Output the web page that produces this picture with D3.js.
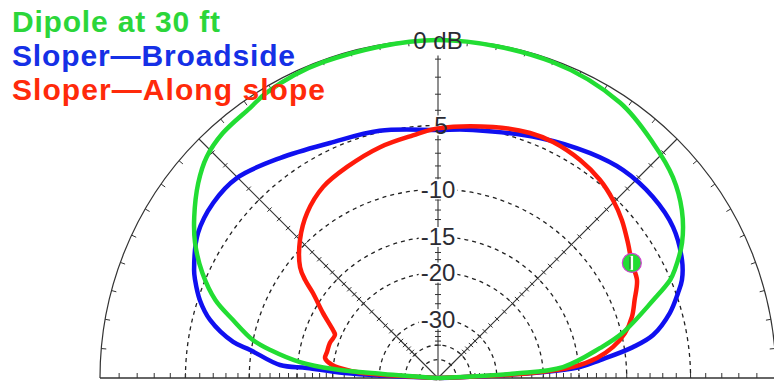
<!DOCTYPE html>
<html><head><meta charset="utf-8">
<script src="https://cdn.jsdelivr.net/npm/d3@7"></script>
<style>html,body{margin:0;padding:0;background:#fff;overflow:hidden}</style>
</head><body><svg id="c" width="774" height="381"></svg>
<script>
// ---- data ----
const legendLabels = ["Dipole at 30 ft", "Sloper\u2014Broadside", "Sloper\u2014Along slope"];
const ringDb = [-5, -10, -15, -20, -30, -40, -50];
const ringLabels = ["0 dB", "5", "-10", "-15", "-20", "-30"];
const ringLabelDb = [0, -5, -10, -15, -20, -30];
const radialAngles = [0, 45, 90, 135, 180];
const tickDb = [-1,-2,-3,-4,-5,-6,-7,-8,-9,-10,-11,-12,-13,-14,-15,-16,-17,-18,-19,-20,-22,-24,-26,-28,-30,-32,-34,-36,-38,-40];
const arcTickAngles = d3.range(5, 180, 5);

const dipoleAngle = [0, 3.3, 5.0, 10.5, 13.7, 19.9, 22.9, 24.5, 29, 34.5, 40.5, 47.5, 56.5, 70, 90, 110, 120.9, 124.8, 131.3, 136.3, 140.9, 146.6, 150.9, 156.0, 160.7, 164.2, 168.4, 170.5, 173.4, 175.1, 175.8, 180];
const dipoleDb    = [-99, -25.3, -17.0, -12.3, -9.9, -6.68, -5.04, -4.5, -3.29, -2.28, -1.54, -1.02, -0.41, -0.1, 0, -0.1, -0.26, -0.46, -0.62, -0.94, -1.54, -2.51, -3.35, -4.64, -6.17, -7.92, -9.98, -11.8, -15.25, -20.06, -31, -99];

const broadAngle = [0, 3.0, 4.4, 6.3, 9.0, 11.3, 15.7, 19.5, 21.9, 25.8, 32.7, 40.1, 48.3, 55.9, 67, 82, 90, 103.3, 114.7, 125.7, 135.1, 142.1, 148.9, 156.1, 158, 161.9, 165.7, 170.0, 171.5, 175.3, 175.6, 177, 180];
const broadDb    = [-99, -22, -14.85, -12.5, -9.23, -7.42, -5.81, -4.86, -4.31, -3.79, -3.27, -3.17, -3.33, -3.76, -4.45, -5.14, -5.31, -4.9, -4.59, -3.80, -3.01, -2.93, -3.21, -4.06, -4.37, -5.14, -6.22, -8.33, -9.89, -13.0, -16.2, -22, -99];

const slopeAngle = [0, 3, 4.7, 7.2, 10.0, 13.5, 17.5, 21.6, 26.2, 30.7, 35.4, 40.7, 45.5, 50.7, 56.9, 64, 69.4, 77.6, 90, 95.9, 104.1, 113.3, 121, 128.4, 135, 141.2, 143.6, 145.8, 150.5, 155.4, 157.3, 162, 166.8, 170, 173, 174.2, 176, 180];
const slopeDb    = [-99, -22, -15.7, -12.8, -11.05, -9.68, -8.72, -8.05, -7.23, -6.95, -6.38, -5.70, -5.20, -4.78, -4.49, -4.34, -4.39, -4.70, -5.2, -5.6, -6.02, -6.62, -7.14, -8.11, -9.42, -11.1, -12.3, -13.8, -16.1, -18.4, -19.0, -18.7, -18.65, -18.55, -19.8, -21.2, -25, -99];

const markerAngle = 30.7, markerDb = -6.95;

const seriesColors = ["#22dd33", "#1010f0", "#ff1a0a"];
const legendColors = ["#2bd63a", "#1530e6", "#ff2a0a"];

// ---- setup ----
const cx = 438, cy = 378, R = 338;
const svg = d3.select("#c");
// ARRL log-periodic scale: radius ~ (power ratio)^0.2531  (0.89 per 2 dB)
const rScale = d3.scalePow().exponent(0.2531).domain([0, 1]).range([0, R]);
const rad = db => rScale(Math.pow(10, db / 10));
const angScale = d3.scaleLinear().domain([0, 180]).range([Math.PI / 2, -Math.PI / 2]);
const pt = (deg, r) => { const a = angScale(deg); return [cx + r * Math.sin(a), cy - r * Math.cos(a)]; };

const g = svg.append("g");
const gridCol = "#333";

// dashed rings
ringDb.forEach(db => {
  const p = d3.path(); const r = rad(db);
  p.moveTo(cx - r, cy); p.arc(cx, cy, r, Math.PI, 0);
  g.append("path").attr("d", p.toString()).attr("fill", "none")
    .attr("stroke", "#222").attr("stroke-width", 1.3).attr("stroke-dasharray", "4,4");
});
// outer 0 dB arc
{
  const p = d3.path(); p.moveTo(cx - R, cy); p.arc(cx, cy, R, Math.PI, 0);
  g.append("path").attr("d", p.toString()).attr("fill", "none").attr("stroke", gridCol).attr("stroke-width", 1.2);
}
// outer arc ticks
arcTickAngles.forEach(a => {
  const [x1, y1] = pt(a, R), [x2, y2] = pt(a, R - 5);
  g.append("line").attr("x1", x1).attr("y1", y1).attr("x2", x2).attr("y2", y2).attr("stroke", gridCol).attr("stroke-width", 1);
});
// baseline
g.append("line").attr("x1", cx - R).attr("y1", cy).attr("x2", cx + R).attr("y2", cy).attr("stroke", gridCol).attr("stroke-width", 1.4);
// radial lines
radialAngles.forEach(a => {
  if (a === 0 || a === 180) return;
  const rEnd = a === 90 ? rad(-0.8) : R;
  const [x1, y1] = pt(a, 0), [x2, y2] = pt(a, rEnd);
  g.append("line").attr("x1", x1).attr("y1", y1).attr("x2", x2).attr("y2", y2).attr("stroke", gridCol).attr("stroke-width", 1.1);
});
// ticks along radials
radialAngles.forEach(a => {
  const ar = a * Math.PI / 180;
  const horiz = (a === 0 || a === 180);
  tickDb.forEach(db => {
    const [x, y] = pt(a, rad(db));
    const l1 = horiz ? 0 : 3, l2 = horiz ? 5 : 3;
    const nx = horiz ? 0 : Math.sin(ar), ny = horiz ? -1 : Math.cos(ar);
    g.append("line").attr("x1", x - nx * l1).attr("y1", y - ny * l1)
      .attr("x2", x + nx * l2).attr("y2", y + ny * l2)
      .attr("stroke", gridCol).attr("stroke-width", 1);
  });
});

// label backgrounds (placed later), curves, labels
const bgG = svg.append("g");
const curveG = svg.append("g");
const labelG = svg.append("g");

const line = d3.lineRadial().angle(d => angScale(d[0])).radius(d => rad(d[1])).curve(d3.curveCatmullRom.alpha(0.5));
const series = [
  {a: broadAngle, d: broadDb, c: seriesColors[1]},
  {a: slopeAngle, d: slopeDb, c: seriesColors[2]},
  {a: dipoleAngle, d: dipoleDb, c: seriesColors[0]}
];
series.forEach(s => {
  const data = s.a.map((v, i) => [v, s.d[i]]);
  curveG.append("path").attr("transform", `translate(${cx},${cy})`).attr("d", line(data))
    .attr("fill", "none").attr("stroke", s.c).attr("stroke-width", 4.5)
    .attr("stroke-linejoin", "round").attr("stroke-linecap", "round");
});
// marker
{
  const [mx, my] = pt(markerAngle, rad(markerDb));
  curveG.append("circle").attr("cx", mx).attr("cy", my).attr("r", 9.5).attr("fill", seriesColors[0]).attr("stroke", "#d040d0").attr("stroke-width", 1.2);
  curveG.append("line").attr("x1", mx).attr("y1", my - 7).attr("x2", mx).attr("y2", my + 7).attr("stroke", "#fff").attr("stroke-width", 2.5);
  curveG.append("line").attr("x1", mx - 1.8).attr("y1", my - 6).attr("x2", mx - 1.8).attr("y2", my + 6).attr("stroke", "#333").attr("stroke-width", 0.8);
}

// ring labels
ringLabels.forEach((t, i) => {
  const y = cy - rad(ringLabelDb[i]);
  const x = t === "5" ? cx + 3 : cx;
  const txt = labelG.append("text").attr("x", x).attr("y", y + 8.5).attr("text-anchor", "middle")
    .attr("font-family", "'Liberation Sans', Arial, sans-serif").attr("font-size", 24).attr("fill", "#2b2b33").text(t);
  const b = txt.node().getBBox();
  bgG.append("rect").attr("x", b.x - 2).attr("y", y - 10).attr("width", b.width + 4).attr("height", 20).attr("fill", "#fff");
});

// legend
const legendY = [32, 66, 100];
const legendW = [208, 283, 313];
legendLabels.forEach((t, i) => {
  svg.append("text").attr("x", 12).attr("y", legendY[i])
    .attr("font-family", "'Liberation Sans', Arial, sans-serif").attr("font-weight", "bold").attr("font-size", 30)
    .attr("textLength", legendW[i]).attr("lengthAdjust", "spacing")
    .attr("fill", legendColors[i]).text(t);
});
</script></body></html>
